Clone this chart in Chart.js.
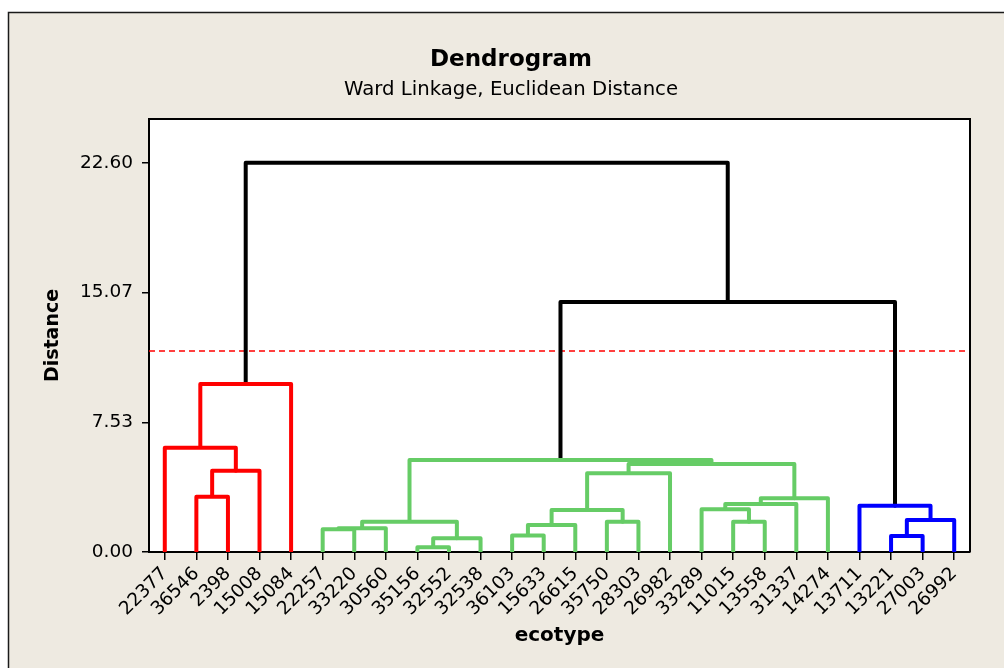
<!DOCTYPE html>
<html>
<head>
<meta charset="utf-8">
<script src="https://cdn.jsdelivr.net/npm/chart.js@4.4.1/dist/chart.umd.min.js"></script>
<style>
  html, body { margin: 0; padding: 0; background: #ffffff; }
  #c { display: block; }
</style>
</head>
<body>
<canvas id="c" width="1004" height="668"></canvas>
<script>
// ---- data ----
const ecotypes = ['22377','36546','2398','15008','15084','22257','33220','30560','35156','32552','32538','36103','15633','26615','35750','28303','26982','33289','11015','13558','31337','14274','13711','13221','27003','26992'];
const leafCluster = [0,0,0,0,0, 1,1,1,1,1,1,1,1,1,1,1,1,1,1,1,1,1, 2,2,2,2];
// merges: ids < 26 are leaves (display order), id 26+k is the cluster formed by merge k
const mergeLeft   = [8, 26, 23, 11, 5, 30, 29, 14, 18, 31, 28, 32, 17, 22, 38, 40, 1, 37, 42, 43, 35, 0, 47, 46, 48];
const mergeRight  = [9, 10, 24, 12, 6, 7, 13, 15, 19, 27, 25, 33, 34, 36, 20, 21, 2, 16, 3, 41, 45, 44, 4, 39, 49];
const mergeHeight = [0.27, 0.80, 0.93, 0.96, 1.32, 1.38, 1.57, 1.76, 1.76, 1.76, 1.86, 2.44, 2.48, 2.69, 2.79, 3.12, 3.21, 4.57, 4.72, 5.11, 5.34, 6.05, 9.75, 14.51, 22.60];
const cutDistance = 11.67;
const distanceTicks = [0, 7.53, 15.07, 22.60];
const distanceMax = 25.14;

// ---- build dendrogram segments ----
const clusterColors = ['#ff0000', '#66cc66', '#0000ff'];
const xMin = -0.5, xMax = ecotypes.length - 0.5;
const nodeX = ecotypes.map((_, i) => i);
const nodeY = ecotypes.map(() => 0);
const nodeC = leafCluster.slice();
const datasets = [];
mergeHeight.forEach((h, k) => {
  const a = mergeLeft[k], b = mergeRight[k];
  nodeX.push((nodeX[a] + nodeX[b]) / 2);
  nodeY.push(h);
  nodeC.push(nodeC[a]);
  datasets.push({
    data: [{x: nodeX[a], y: nodeY[a]}, {x: nodeX[a], y: h}, {x: nodeX[b], y: h}, {x: nodeX[b], y: nodeY[b]}],
    borderColor: h > cutDistance ? '#000000' : clusterColors[nodeC[a]],
    borderWidth: 4,
    borderJoinStyle: 'round',
    showLine: true, pointRadius: 0, pointHoverRadius: 0, fill: false, tension: 0
  });
});
datasets.push({
  data: [{x: xMin, y: cutDistance}, {x: xMax, y: cutDistance}],
  borderColor: '#ff0000', borderWidth: 1.3, borderDash: [6, 4],
  showLine: true, pointRadius: 0, fill: false
});

const FONT = "'DejaVu Sans', sans-serif";

const framePlugin = {
  id: 'frame',
  beforeDraw(chart) {
    const {ctx, width, height, chartArea: a} = chart;
    ctx.save();
    ctx.fillStyle = '#ffffff'; ctx.fillRect(0, 0, width, height);
    ctx.fillStyle = '#eeeae1'; ctx.fillRect(8, 12, width - 8, height - 12);
    ctx.strokeStyle = '#1a1a1a'; ctx.lineWidth = 1.5;
    ctx.beginPath(); ctx.moveTo(8.5, height); ctx.lineTo(8.5, 12.5); ctx.lineTo(width, 12.5); ctx.stroke();
    ctx.fillStyle = '#ffffff'; ctx.fillRect(a.left, a.top, a.right - a.left, a.bottom - a.top);
    ctx.restore();
  },
  afterDraw(chart) {
    const {ctx, chartArea: a} = chart;
    ctx.save();
    ctx.strokeStyle = '#000000'; ctx.lineWidth = 2;
    ctx.beginPath(); ctx.moveTo(a.left, a.top); ctx.lineTo(a.right, a.top); ctx.lineTo(a.right, a.bottom); ctx.stroke();
    ctx.restore();
  }
};

new Chart(document.getElementById('c'), {
  type: 'scatter',
  data: { datasets },
  plugins: [framePlugin],
  options: {
    responsive: false, animation: false, devicePixelRatio: 1,
    layout: { padding: { left: 52, right: 34, top: 0, bottom: 0 } },
    plugins: {
      legend: { display: false },
      tooltip: { enabled: false },
      title: { display: true, text: 'Dendrogram', color: '#000', font: { family: FONT, size: 23, weight: 'bold', lineHeight: '28px' }, padding: { top: 46, bottom: 0 } },
      subtitle: { display: true, text: 'Ward Linkage, Euclidean Distance', color: '#000', font: { family: FONT, size: 19.7, weight: 'normal', lineHeight: '24px' }, padding: { top: 4, bottom: 17 } }
    },
    scales: {
      x: {
        type: 'linear', min: xMin, max: xMax,
        afterBuildTicks: (s) => { s.ticks = ecotypes.map((_, i) => ({ value: i })); },
        afterFit: (s) => { s.height = 116; },
        ticks: { autoSkip: false, minRotation: 45, maxRotation: 45, padding: 3, color: '#000',
                 font: { family: FONT, size: 18.5 }, callback: (v) => ecotypes[Math.round(v)] },
        grid: { drawOnChartArea: false, drawTicks: true, tickLength: 8, color: '#000', lineWidth: 1.5 },
        border: { display: true, color: '#000', width: 2 },
        title: { display: true, text: 'ecotype', color: '#000', font: { family: FONT, size: 20, weight: 'bold', lineHeight: '24px' }, padding: { top: 0, bottom: 20 } }
      },
      y: {
        type: 'linear', min: 0, max: distanceMax,
        afterBuildTicks: (s) => { s.ticks = distanceTicks.map(v => ({ value: v })); },
        afterFit: (s) => { s.width = 97; },
        ticks: { padding: 9, color: '#000', font: { family: FONT, size: 18.5 }, callback: (v) => Number(v).toFixed(2) },
        grid: { drawOnChartArea: false, drawTicks: true, tickLength: 7, color: '#000', lineWidth: 1.5 },
        border: { display: true, color: '#000', width: 2 },
        title: { display: true, text: 'Distance', color: '#000', font: { family: FONT, size: 19, weight: 'bold', lineHeight: '2px' }, padding: { top: 0, bottom: 0 } }
      }
    }
  }
});
</script>
</body>
</html>
